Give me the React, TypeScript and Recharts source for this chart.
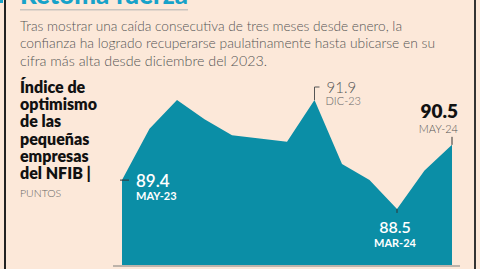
import React from 'react';
import { AreaChart, Area, XAxis, YAxis, LabelList } from 'recharts';

const months = [
  'MAY-23', 'JUN-23', 'JUL-23', 'AGO-23', 'SEP-23', 'OCT-23', 'NOV-23',
  'DIC-23', 'ENE-24', 'FEB-24', 'MAR-24', 'ABR-24', 'MAY-24',
];
const values = [89.4, 91.0, 91.9, 91.3, 90.8, 90.7, 90.6, 91.9, 89.9, 89.4, 88.5, 89.7, 90.5];

const introLines = [
  'Tras mostrar una caída consecutiva de tres meses desde enero, la',
  'confianza ha logrado recuperarse paulatinamente hasta ubicarse en su',
  'cifra más alta desde diciembre del 2023.',
];
const introWidths = [382, 415, 247];
const titleLines = ['Índice de', 'optimismo', 'de las', 'pequeñas', 'empresas', 'del NFIB |'];

const data = months.map((m, i) => ({ month: m, value: values[i] }));

const bg = '#fce8d9';
const teal = '#0b8ea6';
const font = 'Lato, "Open Sans", sans-serif';

// which points get a callout
const callouts = [0, 7, 10, 12];

function renderLabel(props: any) {
  const { x, y, index, value } = props;
  if (!callouts.includes(index)) return null;
  const px = Number(x);
  const py = Number(y);
  const num = Number(value).toFixed(1);
  const month = months[index];

  if (index === 0) {
    return (
      <g key={index}>
        <line x1={px - 2} y1={py} x2={px + 7} y2={py} stroke="#333" strokeWidth={1} />
        <text x={px + 14} y={py + 7} fill="#fff" fontSize={17} fontWeight={600} fontFamily={font}>{num}</text>
        <text x={px + 14} y={py + 20} fill="#fff" fontSize={11} fontWeight={700} fontFamily={font}>{month}</text>
      </g>
    );
  }
  if (index === 7) {
    return (
      <g key={index}>
        <path d={`M${px},${py} L${px},${py - 13} L${px + 5},${py - 13}`} fill="none" stroke="#555" strokeWidth={1} />
        <text x={px + 12} y={py - 7} fill="#555" fontSize={15} fontWeight={300} fontFamily={font}>{num}</text>
        <text x={px + 11} y={py + 5} fill="#666" fontSize={11} fontWeight={300} fontFamily={font}>{month}</text>
      </g>
    );
  }
  if (index === 10) {
    return (
      <g key={index}>
        <line x1={px} y1={py} x2={px} y2={py + 4} stroke="#333" strokeWidth={1} />
        <text x={px - 2} y={py + 24} fill="#fff" textAnchor="middle" fontSize={16} fontWeight={600} fontFamily={font}>{num}</text>
        <text x={px - 2} y={py + 38} fill="#fff" textAnchor="middle" fontSize={11} fontWeight={700} fontFamily={font}>{month}</text>
      </g>
    );
  }
  return (
    <g key={index}>
      <line x1={px} y1={py} x2={px} y2={py - 8} stroke="#333" strokeWidth={1} />
      <text x={px + 6} y={py - 27} fill="#111" textAnchor="end" fontSize={19} fontWeight={800} fontFamily={font}>{num}</text>
      <text x={px + 6} y={py - 12} fill="#555" textAnchor="end" fontSize={11} fontWeight={300} fontFamily={font}>{month}</text>
    </g>
  );
}

export default function App() {
  return (
    <div
      style={{
        position: 'absolute',
        left: 0,
        top: 0,
        width: 480,
        height: 269,
        background: bg,
        overflow: 'hidden',
        fontFamily: font,
      }}
    >
      {/* frame */}
      <div style={{ position: 'absolute', left: 4, top: 0, width: 2, height: 269, background: '#222' }} />
      <div style={{ position: 'absolute', left: 474, top: 0, width: 2, height: 269, background: '#333' }} />
      <div style={{ position: 'absolute', left: 0, top: 0, width: 3, height: 3, background: '#17a2c9' }} />
      {/* baseline */}
      <div style={{ position: 'absolute', left: 113, top: 265, width: 347, height: 2, background: '#bdb3aa' }} />

      <div style={{ position: 'absolute', left: 0, top: 0 }}>
        <AreaChart
          width={480}
          height={269}
          data={data}
          margin={{ top: 100, right: 28, bottom: 4, left: 122 }}
        >
          <XAxis dataKey="month" hide />
          <YAxis hide domain={[86.75, 91.9]} />
          <Area
            type="linear"
            dataKey="value"
            stroke="none"
            fill={teal}
            fillOpacity={1}
            isAnimationActive={false}
          >
            <LabelList dataKey="value" content={renderLabel} />
          </Area>
        </AreaChart>
      </div>

      <svg
        width={480}
        height={269}
        style={{ position: 'absolute', left: 0, top: 0, pointerEvents: 'none' }}
      >
        <text x={20} y={4} fill="#17a2c9" fontSize={26} fontWeight={900} fontFamily={font} textLength={168} lengthAdjust="spacingAndGlyphs">
          Retoma fuerza
        </text>
        <rect x={20} y={9} width={168} height={1.5} fill="#c9c4bf" />
        {introLines.map((line, i) => (
          <text
            key={line}
            x={20}
            y={31 + i * 17.3}
            fill="#555"
            fontSize={14}
            fontWeight={300}
            fontFamily={font}
            textLength={introWidths[i]}
            lengthAdjust="spacingAndGlyphs"
          >
            {line}
          </text>
        ))}
        {titleLines.map((line, i) => (
          <text
            key={line}
            x={20}
            y={93 + i * 17.2}
            fill="#111"
            fontSize={16}
            fontWeight={800}
            fontFamily={font}
          >
            {line}
          </text>
        ))}
        <text x={20} y={197} fill="#666" fontSize={10.5} fontWeight={300} fontFamily={font}>
          PUNTOS
        </text>
      </svg>
    </div>
  );
}
